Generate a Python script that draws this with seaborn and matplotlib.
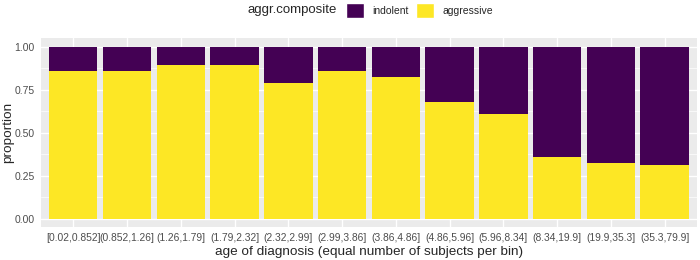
import numpy as np
import pandas as pd
import matplotlib
matplotlib.use("Agg")
import matplotlib.pyplot as plt
from matplotlib.patches import Patch
import seaborn as sns

# age bins (equal number of subjects per bin)
age_bins = ["[0.02,0.852]", "(0.852,1.26]", "(1.26,1.79]", "(1.79,2.32]",
            "(2.32,2.99]", "(2.99,3.86]", "(3.86,4.86]", "(4.86,5.96]",
            "(5.96,8.34]", "(8.34,19.9]", "(19.9,35.3]", "(35.3,79.9]"]
# proportion of each composite class per bin
aggressive = [0.862, 0.857, 0.893, 0.893, 0.787, 0.860,
              0.822, 0.680, 0.609, 0.359, 0.322, 0.310]
indolent = [0.138, 0.143, 0.107, 0.107, 0.213, 0.140,
            0.178, 0.320, 0.391, 0.641, 0.678, 0.690]
y_ticks = [0.0, 0.25, 0.5, 0.75, 1.0]

col_indolent = "#440154"
col_aggressive = "#FDE725"

df = pd.DataFrame({"bin": age_bins, "aggressive": aggressive, "indolent": indolent})
df["total"] = df["aggressive"] + df["indolent"]

sns.set_style("darkgrid", {"axes.facecolor": "#EBEBEB", "grid.color": "white"})
plt.rcParams["font.family"] = ["Liberation Sans", "DejaVu Sans"]

fig = plt.figure(figsize=(7, 2.6), dpi=100)
ax = fig.add_axes([0.0586, 0.126, 0.937, 0.727])

# stacked bars: indolent on top of aggressive
sns.barplot(data=df, x="bin", y="total", color=col_indolent, width=0.9,
            saturation=1, linewidth=0, edgecolor="none", ax=ax, zorder=3)
sns.barplot(data=df, x="bin", y="aggressive", color=col_aggressive, width=0.9,
            saturation=1, linewidth=0, edgecolor="none", ax=ax, zorder=4)

ax.set_ylim(-0.05, 1.05)
ax.set_xlim(-0.6, len(age_bins) - 0.4)
ax.set_yticks(y_ticks)
ax.set_yticklabels([f"{t:.2f}" for t in y_ticks])
ax.set_yticks([0.125, 0.375, 0.625, 0.875], minor=True)
ax.grid(True, which="major", color="white", linewidth=1.0)
ax.grid(True, which="minor", axis="y", color="white", linewidth=0.5)
ax.set_axisbelow(True)
for s in ax.spines.values():
    s.set_visible(False)

ax.tick_params(axis="both", which="major", length=2.5, width=0.8, color="#333333",
               labelsize=7.5, labelcolor="#4D4D4D", pad=2)
ax.tick_params(axis="both", which="minor", length=0)
ax.tick_params(axis="x", labelsize=7.4)
ax.set_xlabel("age of diagnosis (equal number of subjects per bin)", fontsize=9.7, labelpad=2)
ax.set_ylabel("proportion", fontsize=9.7, va="center")
ax.yaxis.set_label_coords(-0.05, 0.5)

# legend with title on the left, like ggplot's top legend
fig.text(0.481, 0.96, "aggr.composite", fontsize=9.5, ha="right", va="center")
handles = [Patch(facecolor=col_indolent, label="indolent"),
           Patch(facecolor=col_aggressive, label="aggressive")]
fig.legend(handles=handles, loc="center left", bbox_to_anchor=(0.494, 0.96),
           ncol=2, frameon=False, fontsize=7.5, handlelength=1.75, handleheight=1.75,
           handletextpad=0.75, columnspacing=0.75, borderaxespad=0, borderpad=0)

fig.savefig("out.png", dpi=100)
plt.close(fig)
